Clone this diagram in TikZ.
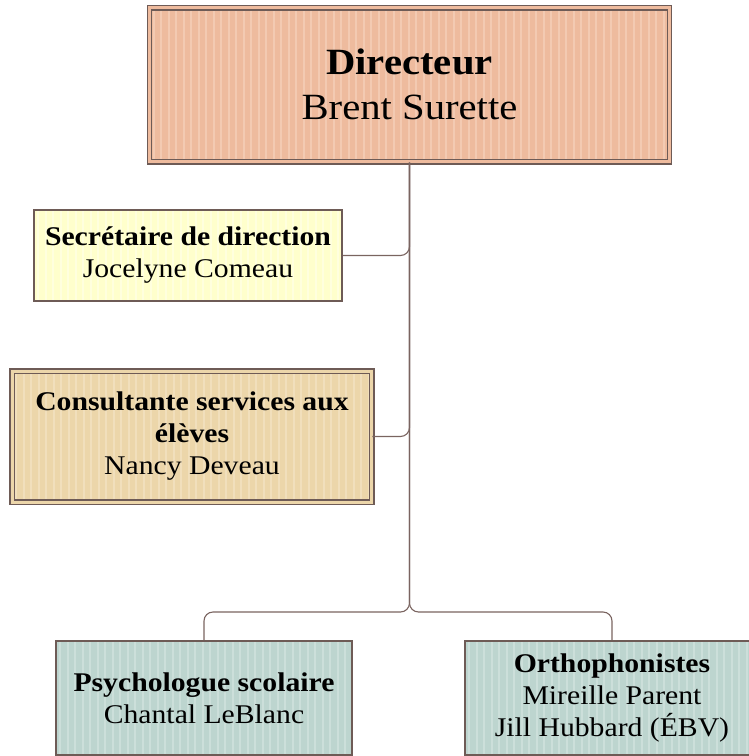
\documentclass[tikz,border=0pt]{standalone}
\usepackage{fontspec}
\setmainfont[FakeStretch=1.1]{Liberation Serif}
\definecolor{bordc}{HTML}{6E5B56}
\definecolor{connc}{HTML}{7A6460}
\definecolor{dirfill}{HTML}{EEBB9E}
\definecolor{dirstripe}{HTML}{F3CAB2}
\definecolor{secfill}{HTML}{FFFFCC}
\definecolor{secstripe}{HTML}{FFFFDE}
\definecolor{confill}{HTML}{ECD6AA}
\definecolor{constripe}{HTML}{F1DFBC}
\definecolor{kidfill}{HTML}{BDD5CF}
\definecolor{kidstripe}{HTML}{CCDFDA}
\tikzset{
  stripes/.style={path picture={
      \foreach \i in {0,...,90}{
        \fill[#1] ([xshift=\i*7.5pt+3pt]path picture bounding box.south west) rectangle ++(2pt,300pt);
      }}},
  orgbox/.style 2 args={draw=bordc, line width=1.6pt, fill=#1, stripes=#2,
      inner sep=0pt, align=center},
  orgboxd/.style 2 args={orgbox={#1}{#2}, line width=1.4pt, double=#1, double distance=3pt},
  bigtxt/.style={font=\fontsize{37}{45}\selectfont},
  smalltxt/.style={font=\fontsize{27}{32}\selectfont},
  conn/.style={draw=connc, line width=1.1pt, rounded corners=9pt}
}
\begin{document}
\begin{tikzpicture}[x=1pt,y=-1pt]
\useasboundingbox (0,0) rectangle (748,756);

\node[orgboxd={dirfill}{dirstripe}, bigtxt, minimum width=520pt, minimum height=154pt]
  (dir) at (409.5,84.8) {\textbf{Directeur}\\Brent Surette};

\node[orgbox={secfill}{secstripe}, smalltxt, minimum width=308pt, minimum height=91pt]
  (sec) at (188,255.5) {\textbf{Secrétaire de direction}\\Jocelyne Comeau};

\node[orgboxd={confill}{constripe}, smalltxt, minimum width=359.5pt, minimum height=131pt]
  (con) at (192,436.5) {\textbf{Consultante services aux}\\\textbf{élèves}\\Nancy Deveau};

\node[orgbox={kidfill}{kidstripe}, smalltxt, minimum width=296pt, minimum height=114pt]
  (psy) at (204,698) {\textbf{Psychologue scolaire}\\Chantal LeBlanc};

\node[orgbox={kidfill}{kidstripe}, smalltxt, minimum width=294pt, minimum height=114pt]
  (ort) at (612,698) {\textbf{Orthophonistes}\\Mireille Parent\\Jill Hubbard (ÉBV)};

\coordinate (br) at (409.5,612);

\draw[conn] (dir.south) |- (sec.east);
\draw[conn] (dir.south) |- (con.east);
\draw[conn] (dir.south) -- (dir.south |- br) -| (psy.north);
\draw[conn] (dir.south) -- (dir.south |- br) -| (ort.north);
\end{tikzpicture}
\end{document}
